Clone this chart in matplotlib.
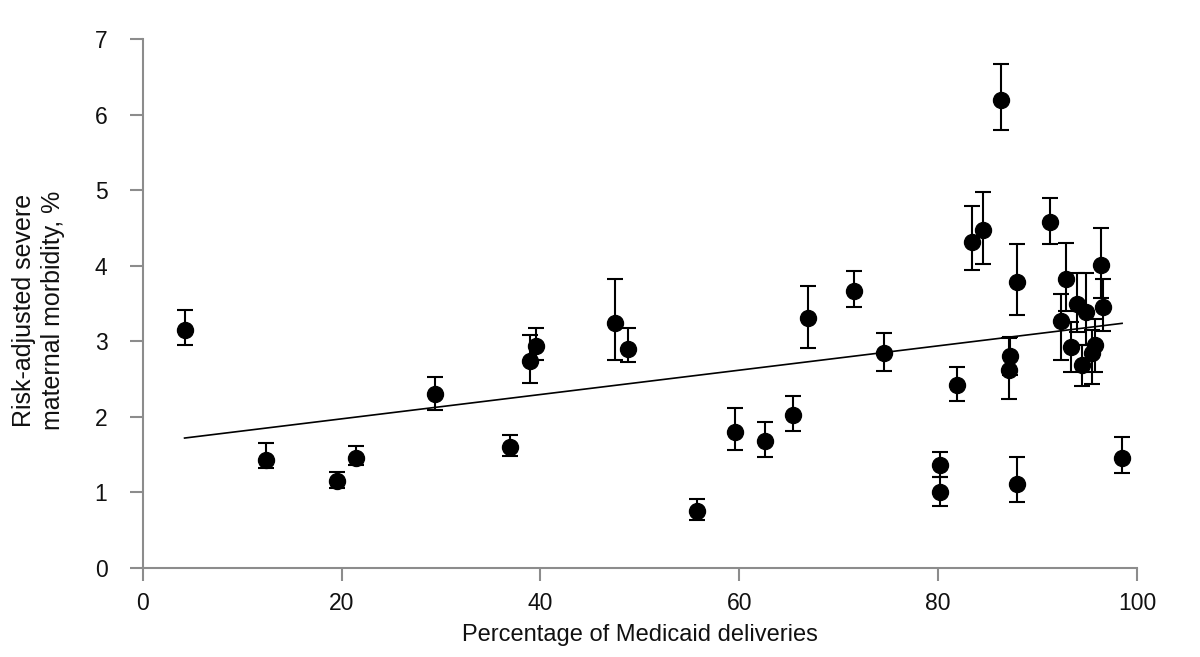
import matplotlib
matplotlib.use("Agg")
import matplotlib.pyplot as plt
import numpy as np

plt.rcParams["font.family"] = ["Liberation Sans", "DejaVu Sans"]

# hospitals: % Medicaid deliveries, risk-adjusted SMM %, CI bounds
medicaid_pct = [4.2, 12.4, 19.5, 21.4, 29.4, 36.9, 38.9, 39.5, 47.5, 48.8,
                55.7, 59.6, 62.6, 65.4, 66.9, 71.5, 74.6, 80.2, 80.2, 81.9,
                83.4, 84.5, 86.3, 87.1, 87.2, 87.9, 87.9, 91.2, 92.4, 92.9,
                93.4, 94.0, 94.5, 94.9, 95.5, 95.8, 96.4, 96.6, 98.5]
smm_rate = [3.15, 1.43, 1.15, 1.46, 2.30, 1.60, 2.74, 2.94, 3.24, 2.90,
            0.75, 1.80, 1.68, 2.02, 3.31, 3.67, 2.85, 1.36, 1.00, 2.42,
            4.31, 4.47, 6.19, 2.62, 2.80, 3.78, 1.11, 4.58, 3.27, 3.83,
            2.93, 3.50, 2.69, 3.39, 2.84, 2.95, 4.01, 3.45, 1.46]
ci_upper = [3.41, 1.65, 1.27, 1.61, 2.53, 1.76, 3.08, 3.18, 3.82, 3.18,
            0.91, 2.12, 1.93, 2.28, 3.73, 3.93, 3.11, 1.53, 1.21, 2.66,
            4.79, 4.98, 6.67, 3.04, 3.06, 4.29, 1.47, 4.90, 3.62, 4.30,
            3.25, 3.90, 2.95, 3.90, 3.15, 3.30, 4.50, 3.82, 1.73]
ci_lower = [2.95, 1.32, 1.06, 1.36, 2.09, 1.48, 2.45, 2.75, 2.75, 2.73,
            0.64, 1.56, 1.47, 1.81, 2.91, 3.45, 2.61, 1.21, 0.82, 2.21,
            3.94, 4.02, 5.80, 2.24, 2.55, 3.35, 0.87, 4.29, 2.75, 3.40,
            2.59, 3.12, 2.41, 2.95, 2.43, 2.60, 3.57, 3.13, 1.26]

# linear trend
trend_intercept, trend_slope = 1.652, 0.0161

x = np.array(medicaid_pct)
y = np.array(smm_rate)
yerr = [y - np.array(ci_lower), np.array(ci_upper) - y]

fig = plt.figure(figsize=(12, 6.57), dpi=100)
ax = fig.add_axes([0.119, 0.1355, 0.8285, 0.805])

ax.errorbar(x, y, yerr=yerr, fmt="o", color="black", ms=11.5,
            elinewidth=1.5, capsize=6, capthick=1.5, zorder=3)
xs = np.array([x.min(), x.max()])
ax.plot(xs, trend_intercept + trend_slope * xs, color="black", lw=1.2, zorder=2)

ax.set_xlim(0, 100)
ax.set_ylim(0, 7)
ax.set_xticks(range(0, 101, 20))
ax.set_yticks(range(0, 8))
for side in ("top", "right"):
    ax.spines[side].set_visible(False)
for side in ("left", "bottom"):
    ax.spines[side].set_color("#8c8c8c")
    ax.spines[side].set_linewidth(1.5)
ax.tick_params(colors="#8c8c8c", labelcolor="#111111", width=1.5, length=9.5,
               labelsize=16.5)
ax.tick_params(axis="x", pad=8)
ax.tick_params(axis="y", pad=16)

ax.set_xlabel("Percentage of Medicaid deliveries", fontsize=17, color="#111111")
ax.xaxis.set_label_coords(0.5, -0.105)
fig.text(0.032, 0.528, "Risk-adjusted severe\nmaternal morbidity, %",
         rotation=90, ha="center", va="center", multialignment="center",
         fontsize=18, color="#111111", linespacing=1.3)

fig.savefig("out.png", dpi=100)
